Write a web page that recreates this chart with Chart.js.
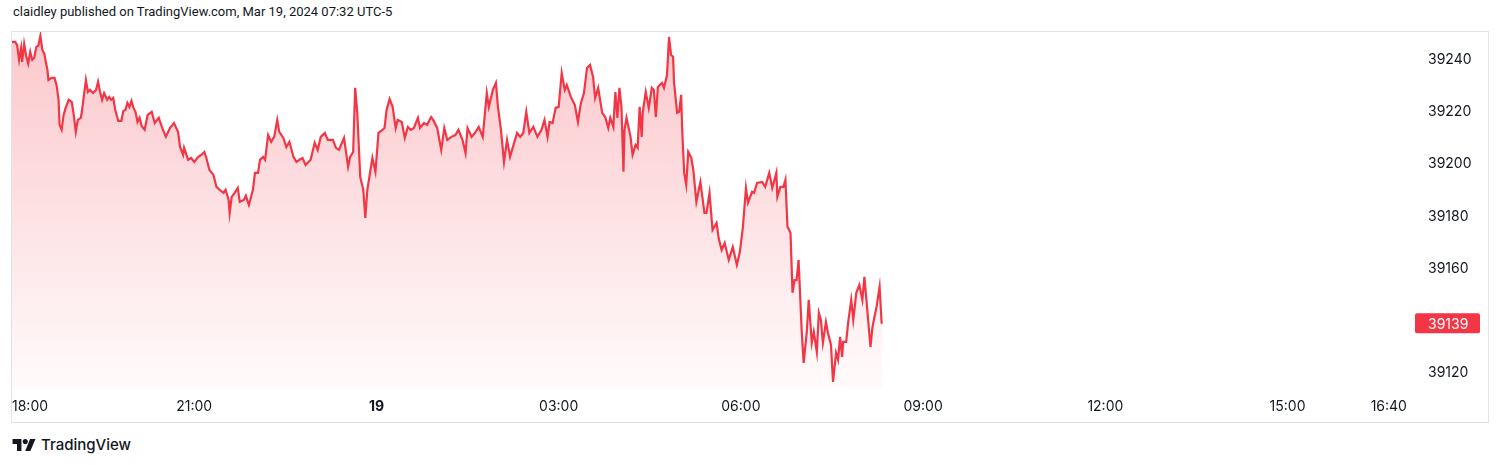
<!DOCTYPE html>
<html>
<head>
<meta charset="utf-8">
<script src="https://cdn.jsdelivr.net/npm/chart.js@4.4.1/dist/chart.umd.min.js"></script>
<style>
  html, body { margin: 0; padding: 0; background: #ffffff; }
  body { width: 1500px; height: 465px; position: relative; overflow: hidden;
         font-family: Inter, Roboto, sans-serif; color: #131722; }
  #hdr { position: absolute; left: 13px; top: 3px; font-family: Roboto, sans-serif;
         font-size: 13px; line-height: 18px; }
  #pane { position: absolute; left: 11px; top: 31px; width: 1476px; height: 390px;
          border: 1px solid #e0e3eb; }
  #ftr { position: absolute; left: 12px; top: 435px; height: 18px; display: flex;
         align-items: center; font-size: 15px; font-weight: 500; }
  #ftr svg { margin-right: 5px; }
</style>
</head>
<body>
<div id="hdr">claidley published on TradingView.com, Mar 19, 2024 07:32 UTC-5</div>
<div id="pane"><canvas id="dow" width="1476" height="390"></canvas></div>
<div id="ftr">
  <svg width="24" height="14" viewBox="0 0 36 22"><path d="M14 22H7V11H0V3h14v19zM28 22h-8l7.5-19h8.5L28 22z" fill="#131722"/><circle cx="20" cy="7" r="4" fill="#131722"/></svg>
  TradingView
</div>
<script>
// Dow 30 minute line, 18 Mar 18:00 -> 19 Mar ~08:20 (minutes after 18:00).
const minutes = [
  0,3,5,7,9,10,12,14,16,18,20,22,24,26,28,30,32,33,35,36,39,42,44,46,47,49,51,53,56,59,
  61,63,65,68,69,73,75,77,80,83,85,87,89,91,94,96,98,100,102,105,108,110,112,114,116,118,120,122,124,126,
  128,131,134,138,141,145,148,152,156,160,164,166,169,170,174,177,180,184,187,190,192,195,199,202,205,209,211,214,215,217,
  220,223,225,229,231,234,238,240,243,245,248,250,253,256,259,262,264,268,271,274,278,281,284,287,290,295,299,302,305,309,
  312,317,320,323,328,332,334,337,339,341,344,347,349,351,353,356,359,362,366,368,370,373,376,379,381,385,388,391,394,397,
  401,403,407,410,414,416,420,424,427,430,434,438,441,445,448,450,454,458,461,465,469,471,475,478,480,483,486,489,492,496,
  499,502,505,508,511,515,519,523,526,529,531,534,537,540,543,546,548,552,556,559,562,565,568,571,574,576,579,583,586,589,
  591,594,596,598,600,602,604,605,607,611,613,616,618,620,622,623,626,629,632,634,636,638,642,644,647,649,651,653,654,657,
  659,661,662,664,666,668,671,673,676,680,684,686,689,692,696,698,701,704,708,712,716,719,722,725,727,731,733,736,741,744,
  748,751,755,756,759,762,764,766,769,771,773,775,777,780,782,785,787,790,792,795,797,799,801,804,806,809,811,814,816,818,
  820,821,824,826,829,831,834,837,840,842,844,848,850,852,854,857,859,860
];

const prices = [
  39246.9,39246.9,39245.8,39240.0,39244.6,39239.2,39246.1,39241.5,39238.5,39243.1,39240.0,39240.8,39245.0,39245.4,39249.2,39243.8,39242.3,39240.0,39236.2,39232.3,39233.1,39233.1,39230.4,39224.7,39215.1,39213.2,39218.9,39221.6,39224.7,39223.9,
  39218.9,39212.4,39217.0,39217.8,39220.1,39232.3,39227.7,39228.5,39227.3,39228.5,39231.6,39227.7,39224.7,39227.3,39224.7,39225.8,39224.7,39225.4,39220.8,39216.6,39216.6,39220.4,39220.8,39223.5,39222.0,39224.3,39221.6,39220.1,39216.2,39217.8,
  39214.7,39213.2,39218.9,39220.1,39215.8,39217.8,39214.3,39210.5,39213.9,39215.8,39212.4,39206.6,39203.6,39206.3,39201.7,39202.4,39200.9,39202.8,39203.6,39204.7,39202.4,39197.8,39195.9,39191.3,39190.2,39189.0,39190.2,39186.3,39181.3,39187.5,
  39189.0,39190.9,39185.6,39186.3,39187.9,39184.4,39190.2,39196.7,39196.7,39201.7,39202.8,39201.7,39211.2,39208.6,39210.5,39217.0,39212.4,39210.1,39206.6,39208.6,39202.8,39200.9,39201.7,39202.4,39199.7,39201.7,39208.2,39205.5,39210.5,39212.0,
  39209.3,39209.3,39206.3,39205.5,39210.1,39199.0,39202.8,39204.7,39229.3,39220.1,39195.1,39190.2,39179.4,39190.2,39195.1,39202.4,39197.1,39212.0,39213.2,39213.9,39220.8,39225.0,39222.0,39213.9,39217.0,39216.2,39210.1,39214.3,39213.2,39213.9,
  39217.8,39213.9,39215.8,39215.1,39218.1,39217.0,39213.9,39205.5,39213.9,39209.3,39210.5,39211.2,39213.2,39209.3,39204.3,39213.9,39210.5,39212.4,39214.3,39210.5,39227.3,39222.0,39228.5,39231.2,39222.0,39213.2,39200.9,39209.3,39202.8,39208.2,
  39212.0,39210.5,39212.0,39220.1,39212.0,39214.3,39210.5,39213.2,39217.0,39210.5,39216.2,39215.8,39221.6,39222.0,39235.0,39228.5,39230.4,39225.8,39222.7,39216.2,39223.5,39227.3,39236.9,39238.1,39233.5,39225.4,39229.3,39219.7,39218.1,39213.9,
  39217.8,39214.3,39227.7,39217.8,39229.3,39222.0,39197.1,39213.2,39217.8,39210.5,39203.6,39207.4,39206.3,39222.0,39210.5,39219.7,39227.7,39221.6,39229.3,39228.5,39218.1,39229.6,39231.2,39229.3,39234.2,39248.8,39241.9,39241.2,39231.2,39219.7,
  39220.1,39226.6,39213.2,39196.7,39192.1,39204.7,39202.4,39197.8,39185.6,39193.2,39181.3,39181.3,39189.0,39174.8,39177.5,39171.7,39167.1,39169.8,39163.3,39168.3,39161.4,39166.4,39176.0,39190.9,39185.2,39189.4,39189.0,39192.8,39193.2,39191.3,
  39196.7,39190.9,39196.7,39187.5,39191.3,39191.3,39194.0,39176.0,39173.7,39150.7,39155.6,39155.6,39163.3,39136.5,39123.8,39135.3,39148.0,39131.5,39135.7,39128.0,39143.0,39140.3,39131.5,39139.5,39135.3,39130.7,39116.5,39127.7,39125.0,39133.8,
  39126.1,39131.9,39131.9,39139.5,39148.0,39140.3,39150.7,39153.7,39148.0,39156.8,39148.0,39130.0,39137.6,39141.5,39145.3,39153.0,39139.2,39139.0
];

// Time axis: tick positions (minutes after 18:00) and their labels.
const xTickValues = [0, 180, 360, 540, 720, 900, 1080, 1260, 1360];
const xTickLabels = ['18:00', '21:00', '19', '03:00', '06:00', '09:00', '12:00', '15:00', '16:40'];
const xMax = 1376;

// Price axis: 39140 sits under the last-price tag, so it is not listed.
const yTickValues = [39120, 39160, 39180, 39200, 39220, 39240];
const yMin = 39114.2;
const yMax = 39250.7;

const red = '#f23645';

// Last price tag on the right axis.
const lastPriceTag = {
  id: 'lastPriceTag',
  afterDraw(chart) {
    const { ctx, chartArea, scales } = chart;
    const last = prices[prices.length - 1];
    const y = scales.y.getPixelForValue(last);
    ctx.save();
    ctx.fillStyle = red;
    ctx.beginPath();
    ctx.roundRect(chartArea.right + 10, y - 10, 65, 20, 2);
    ctx.fill();
    ctx.fillStyle = '#ffffff';
    ctx.font = '14px Inter, Roboto, sans-serif';
    ctx.textBaseline = 'middle';
    ctx.textAlign = 'left';
    ctx.fillText(String(Math.round(last)), chartArea.right + 23, y + 1);
    ctx.restore();
  }
};

new Chart(document.getElementById('dow').getContext('2d'), {
  type: 'line',
  data: {
    datasets: [{
      data: minutes.map((m, i) => ({ x: m, y: prices[i] })),
      borderColor: red,
      borderWidth: 2.2,
      pointRadius: 0,
      tension: 0,
      fill: 'start',
      backgroundColor: (c) => {
        const a = c.chart.chartArea;
        if (!a) return 'rgba(242,54,69,0.15)';
        const g = c.chart.ctx.createLinearGradient(0, a.top, 0, a.bottom);
        g.addColorStop(0, 'rgba(242,54,69,0.28)');
        g.addColorStop(1, 'rgba(242,54,69,0.02)');
        return g;
      }
    }]
  },
  options: {
    responsive: false,
    animation: false,
    layout: { padding: 0 },
    plugins: { legend: { display: false }, tooltip: { enabled: false } },
    scales: {
      x: {
        type: 'linear',
        min: 0,
        max: xMax,
        grid: { display: false, drawTicks: false },
        border: { display: false },
        afterBuildTicks: (s) => {
          s.ticks = xTickValues.concat([xMax]).map(v => ({ value: v }));
        },
        afterFit: (s) => {
          s.height = 34;
          s.paddingLeft = 0;
          s.paddingRight = 0;
        },
        ticks: {
          autoSkip: false,
          maxRotation: 0,
          align: 'inner',
          padding: 10,
          color: '#131722',
          font: (c) => ({ family: 'Inter, Roboto, sans-serif', size: 14,
                          weight: c.tick && c.tick.value === 360 ? 'bold' : 'normal' }),
          callback: (v) => {
            const i = xTickValues.indexOf(v);
            return i < 0 ? '' : xTickLabels[i];
          }
        }
      },
      y: {
        position: 'right',
        min: yMin,
        max: yMax,
        grid: { display: false, drawTicks: false },
        border: { display: false },
        afterBuildTicks: (s) => { s.ticks = yTickValues.map(v => ({ value: v })); },
        afterFit: (s) => {
          s.width = 83;
          s.paddingTop = 0;
          s.paddingBottom = 0;
        },
        ticks: {
          padding: 23,
          color: '#131722',
          font: { family: 'Inter, Roboto, sans-serif', size: 14 },
          callback: (v) => String(v)
        }
      }
    }
  },
  plugins: [lastPriceTag]
});
</script>
</body>
</html>
